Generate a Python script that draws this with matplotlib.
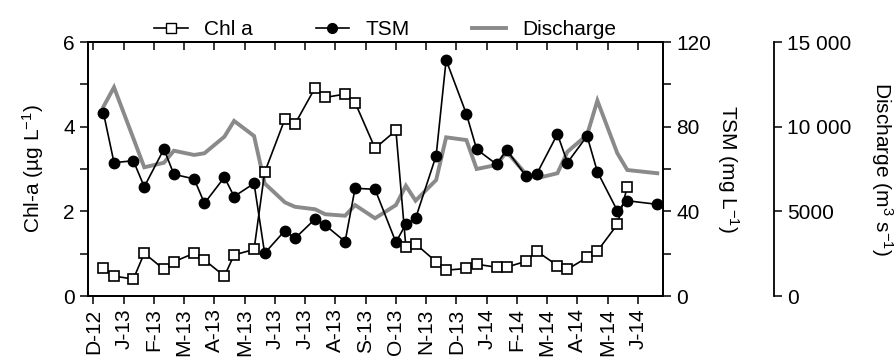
import numpy as np
import matplotlib
matplotlib.use('Agg')
import matplotlib.pyplot as plt
from matplotlib.lines import Line2D

plt.rcParams['font.family'] = ['Liberation Sans', 'DejaVu Sans']
plt.rcParams['mathtext.fontset'] = 'custom'
plt.rcParams['mathtext.rm'] = 'Liberation Sans'
plt.rcParams['mathtext.it'] = 'Liberation Sans:italic'
plt.rcParams['font.size'] = 15

# month labels (D-12 .. J-14) at integer positions
months = ['D-12', 'J-13', 'F-13', 'M-13', 'A-13', 'M-13', 'J-13', 'J-13', 'A-13',
          'S-13', 'O-13', 'N-13', 'D-13', 'J-14', 'F-14', 'M-14', 'A-14', 'M-14', 'J-14']

# sampling dates, in months since Dec 2012
t = [0.33, 0.68, 1.32, 1.68, 2.33, 2.66, 3.33, 3.67, 4.33, 4.65, 5.31, 5.66,
     6.33, 6.66, 7.33, 7.66, 8.32, 8.65, 9.31, 10.0, 10.33, 10.65, 11.33, 11.66,
     12.33, 12.67, 13.33, 13.66, 14.3, 14.65, 15.34, 15.67, 16.32, 16.66, 17.32,
     17.65, 18.64]

chl = [0.67, 0.47, 0.40, 1.01, 0.63, 0.81, 1.01, 0.85, 0.47, 0.97, 1.10, 2.92,
       4.18, 4.06, 4.92, 4.69, 4.77, 4.57, 3.49, 3.91, 1.15, 1.23, 0.81, 0.61,
       0.65, 0.75, 0.68, 0.68, 0.82, 1.06, 0.72, 0.63, 0.91, 1.06, 1.69, 2.58]

tsm = [86.6, 63.0, 63.9, 51.6, 69.4, 57.5, 55.3, 43.8, 56.1, 47.0, 53.2, 20.2,
       30.9, 27.2, 36.4, 33.5, 25.7, 50.9, 50.4, 25.4, 34.0, 36.7, 66.3, 111.5,
       86.0, 69.3, 62.2, 69.0, 56.7, 57.5, 76.5, 63.0, 75.6, 58.7, 40.3, 45.0, 43.3]

discharge = [11180, 12325, 9310, 7600, 7870, 8580, 8330, 8430, 9410, 10340,
             9450, 6650, 5530, 5270, 5120, 4830, 4740, 5370, 4590, 5370, 6510,
             5630, 6850, 9370, 9210, 7500, 7740, 8520, 7200, 6950, 7250, 8520,
             9510, 11540, 8430, 7440, 7250]

q_ticks = [0, 5000, 10000, 15000]
q_labels = ['0', '5000', '10 000', '15 000']

fig = plt.figure(figsize=(8.96, 3.63), dpi=100)
ax = fig.add_axes([88 / 896, 1 - 296 / 363, 575 / 896, 254 / 363])
ax2 = ax.twinx()
ax3 = ax.twinx()

# discharge behind, chl on top
ax3.set_zorder(1)
ax2.set_zorder(2)
ax.set_zorder(3)
ax.patch.set_visible(False)
ax2.patch.set_visible(False)

gray = '#8a8a8a'
ax3.plot(t, discharge, color=gray, lw=2.8, solid_joinstyle='miter')
ax2.plot(t, tsm, color='black', lw=1.2, marker='o', ms=7.5, mfc='black', mec='black')
ax.plot(t[:len(chl)], chl, color='black', lw=1.2, marker='s', ms=7.5,
        mfc='white', mec='black', mew=1.2)

ax.set_xlim(-0.18, 18.83)
ax.set_ylim(0, 6)
ax2.set_ylim(0, 120)
ax3.set_ylim(0, 15000)

lw_sp = 1.3
for a in (ax, ax2, ax3):
    for s in a.spines.values():
        s.set_linewidth(lw_sp)

ax.set_xticks(range(len(months)))
ax.set_xticklabels(months, rotation=90)
ax.tick_params(axis='x', direction='out', length=6, width=1.1, pad=3)
top = ax.secondary_xaxis('top')
top.set_xticks(range(len(months)))
top.tick_params(direction='in', length=6, width=1.1, labeltop=False)
top.spines['top'].set_linewidth(lw_sp)

ax.set_yticks([0, 2, 4, 6])
ax.set_yticks([1, 3, 5], minor=True)
ax.tick_params(axis='y', which='both', direction='out', length=6, width=1.1)
ax.set_ylabel('Chl-a (µg L$^{-1}$)', labelpad=12)

ax2.set_yticks([0, 40, 80, 120])
ax2.set_yticks([20, 60, 100], minor=True)
ax2.tick_params(axis='y', which='both', direction='out', length=6, width=1.1)
ax2.set_ylabel('TSM (mg L$^{-1}$)', rotation=270, va='center')
ax2.yaxis.set_label_coords(1.113, 0.5)

ax3.spines['right'].set_position(('axes', 1.193))
for s in ('left', 'top', 'bottom'):
    ax3.spines[s].set_visible(False)
ax3.set_yticks(q_ticks)
ax3.set_yticklabels(q_labels)
ax3.tick_params(axis='y', direction='out', length=6, width=1.1)
ax3.set_ylabel('Discharge (m$^{3}$ s$^{-1}$)', rotation=270, va='center')
ax3.yaxis.set_label_coords(1.381, 0.5)

handles = [
    Line2D([], [], color='black', lw=1.2, marker='s', ms=7, mfc='white', mec='black'),
    Line2D([], [], color='black', lw=1.2, marker='o', ms=7, mfc='black'),
    Line2D([], [], color=gray, lw=2.8),
]
fig.legend(handles, ['Chl a', 'TSM', 'Discharge'], loc='center',
           bbox_to_anchor=(0.43, 0.918), ncol=3, frameon=False,
           handlelength=1.6, columnspacing=3.0, fontsize=15, handletextpad=0.8)

fig.savefig('out.png', dpi=100)
